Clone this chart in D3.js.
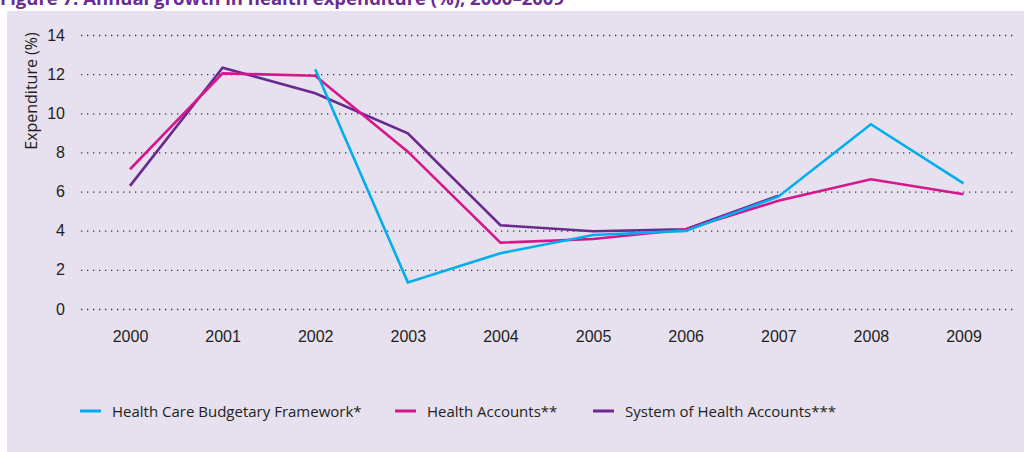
<html>
  <script src="https://d3js.org/d3.v7.min.js"></script>
  <style>
    body {margin: 0; background: white;}
    svg {font-family: "Open Sans", sans-serif;}
    .grid line {stroke: #333; stroke-width: 1.3; stroke-dasharray: 1.3 4.7;}
    .grid path, .ylab path, .xlab path {display: none;}
    .ylab text, .xlab text {fill: #231f20; font-size: 16px;}
    .series {fill: none; stroke-width: 2.6; stroke-linejoin: miter;}
  </style>
  <body>
    <svg class="chart" width="1024" height="452"></svg>
    <script>
      // values
      var years = [2000, 2001, 2002, 2003, 2004, 2005, 2006, 2007, 2008, 2009];
      var hcbf = [null, null, 12.25, 1.36, 2.85, 3.78, 3.99, 5.74, 9.44, 6.42];
      var ha   = [7.14, 12.04, 11.92, 8.04, 3.39, 3.58, 4.06, 5.53, 6.63, 5.86];
      var sha  = [6.29, 12.33, 11.02, 8.98, 4.28, 3.97, 4.07, 5.79, null, null];
      var yTicks = [0, 2, 4, 6, 8, 10, 12, 14];
      var seriesNames = ["Health Care Budgetary Framework*", "Health Accounts**", "System of Health Accounts***"];
      var seriesColors = ["#00aeef", "#d6168b", "#69298f"];

      var svg = d3.select(".chart");

      // panel background
      svg.append("rect")
        .attr("x", 7).attr("y", 11)
        .attr("width", 1024 - 7).attr("height", 452 - 11)
        .attr("fill", "#e6e0ef");

      // title (cut off at the top, like the source)
      svg.append("text")
        .attr("x", 0).attr("y", 5)
        .attr("fill", "#6a2c91")
        .style("font-size", "18.5px")
        .style("font-weight", "bold")
        .text("Figure 7: Annual growth in health expenditure (%), 2000\u20132009");

      var x = d3.scalePoint()
        .domain(years)
        .range([130, 963.5]);

      var y = d3.scaleLinear()
        .domain([0, 14])
        .range([309, 35]);

      var gridLeft = 81, gridRight = 1013;

      svg.append("g")
        .attr("class", "grid")
        .attr("transform", "translate(" + gridLeft + ",0)")
        .call(d3.axisLeft(y).tickValues(yTicks).tickSize(-(gridRight - gridLeft)).tickFormat(""));

      svg.append("g")
        .attr("class", "ylab")
        .attr("transform", "translate(65,0)")
        .call(d3.axisLeft(y).tickValues(yTicks).tickSize(0).tickPadding(0));

      svg.append("g")
        .attr("class", "xlab")
        .attr("transform", "translate(0,331)")
        .call(d3.axisBottom(x).tickSize(0).tickPadding(0).tickFormat(d3.format("d")));

      // y axis title
      svg.append("text")
        .attr("transform", "translate(37,91) rotate(-90)")
        .attr("text-anchor", "middle")
        .attr("fill", "#231f20")
        .style("font-size", "16px")
        .text("Expenditure (%)");

      var line = d3.line()
        .defined(function(d) { return d != null; })
        .x(function(d, i) { return x(years[i]); })
        .y(function(d) { return y(d); });

      var allSeries = [hcbf, ha, sha];
      // draw purple first, blue last
      [2, 1, 0].forEach(function(k) {
        svg.append("path")
          .attr("class", "series")
          .attr("stroke", seriesColors[k])
          .attr("d", line(allSeries[k]));
      });

      // legend
      var legendX = [80, 395, 593];
      var legend = svg.append("g");
      seriesNames.forEach(function(name, k) {
        legend.append("line")
          .attr("x1", legendX[k]).attr("x2", legendX[k] + 21)
          .attr("y1", 411).attr("y2", 411)
          .attr("stroke", seriesColors[k])
          .attr("stroke-width", 3);
        legend.append("text")
          .attr("x", legendX[k] + 32).attr("y", 416.5)
          .attr("fill", "#231f20")
          .style("font-size", "15px")
          .text(name);
      });
    </script>
  </body>
</html>
